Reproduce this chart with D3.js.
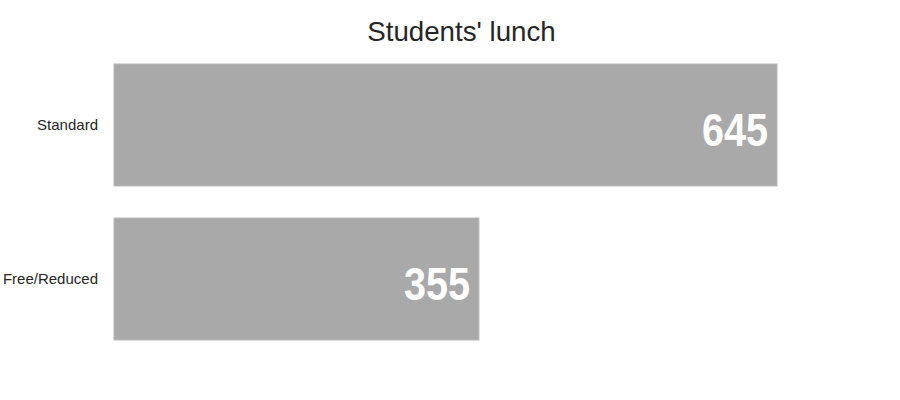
<!DOCTYPE html>
<html><head><meta charset="utf-8">
<script src="https://cdn.jsdelivr.net/npm/d3@7"></script>
<style>body{margin:0;background:#fff}</style>
</head><body>
<svg id="c" width="900" height="400"></svg>
<script>
const categories = ["Standard", "Free/Reduced"];
const values = [645, 355];
const title = "Students' lunch";

const svg = d3.select("#c");
const x = d3.scaleLinear().domain([0, 645]).range([114, 777]);
const y = d3.scaleBand().domain(categories).range([48.6, 355.4]).paddingInner(0.208).paddingOuter(0.1);

svg.append("text").attr("x", 461.5).attr("y", 40.5).attr("text-anchor", "middle")
  .attr("font-family", "Liberation Sans, Arial, sans-serif").attr("font-size", 27.7)
  .attr("fill", "#262626").text(title);

const yAxis = d3.axisLeft(y).tickSize(0).tickPadding(16);
const ga = svg.append("g").attr("transform", "translate(114,0)").call(yAxis);
ga.select(".domain").remove();
ga.selectAll("text").attr("font-family", "Liberation Sans, Arial, sans-serif")
  .attr("font-size", 15).attr("fill", "#262626");

svg.selectAll("rect.bar").data(values).join("rect").attr("class", "bar")
  .attr("x", x(0)).attr("y", (d, i) => y(categories[i]))
  .attr("width", d => x(d) - x(0)).attr("height", y.bandwidth())
  .attr("fill", "#a9a9a9").attr("stroke", "#b8b8b8").attr("stroke-width", 1);

svg.selectAll("text.val").data(values).join("text").attr("class", "val")
  .attr("transform", (d, i) => `translate(${x(d) - 9},${y(categories[i]) + y.bandwidth() / 2 + 21}) scale(0.86,1)`)
  .attr("text-anchor", "end")
  .attr("font-family", "Liberation Sans, Arial, sans-serif").attr("font-weight", "bold")
  .attr("font-size", 46).attr("fill", "#ffffff").text(d => d);
</script>
</body></html>
